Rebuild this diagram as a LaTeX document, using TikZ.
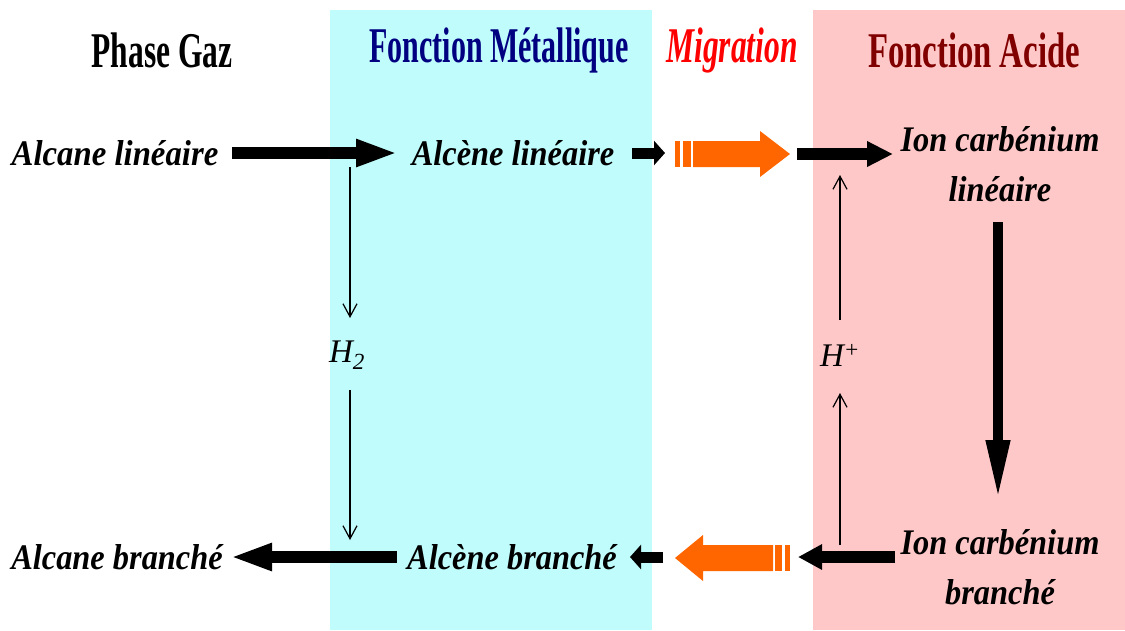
\documentclass[tikz,border=0pt]{standalone}
\usepackage{fontspec}
\setmainfont{Liberation Serif}
\usetikzlibrary{arrows.meta}
\definecolor{cyanbg}{RGB}{192,252,252}
\definecolor{pinkbg}{RGB}{255,200,200}
\definecolor{orng}{RGB}{255,102,0}
\definecolor{navyt}{RGB}{0,0,128}
\definecolor{maroont}{RGB}{128,0,0}
\newcommand\sx[2]{\scalebox{#1}[1]{#2}}
\tikzset{
  title/.style={inner sep=0pt,font=\fontsize{50}{54}\selectfont\bfseries},
  lbl/.style={inner sep=0pt,font=\fontsize{36}{40}\selectfont\bfseries\itshape},
  chem/.style={inner sep=0pt,font=\fontsize{33}{38}\selectfont\itshape},
  bigarrow/.style={line width=12pt,-{Triangle[length=42pt,width=25pt]}},
  smallarrow/.style={line width=11pt,-{Triangle[length=11pt,width=24pt]}},
  vertarrow/.style={line width=10pt,-{Triangle[length=60pt,width=22pt]}},
  thinarrow/.style={line width=1.2pt,-{Straight Barb[length=13pt,width=14pt]}},
}
\begin{document}
\begin{tikzpicture}[x=1pt,y=-1pt]
\useasboundingbox (0,0) rectangle (1125,630);
\fill[cyanbg] (330,10) rectangle (652,630);
\fill[pinkbg] (813,10) rectangle (1125,630);

% titles
\node[title] (tgaz) at (162,50) {\sx{0.63}{Phase Gaz}};
\node[title,text=navyt] (tmet) at (499,50) {\sx{0.6}{Fonction Métallique}};
\node[title,text=red,font=\fontsize{50}{54}\selectfont\bfseries\itshape] (tmig) at (732,50) {\sx{0.63}{Migration}};
\node[title,text=maroont] (tacid) at (974,50) {\sx{0.655}{Fonction Acide}};

% row 1
\node[lbl] (alin) at (115,153) {\sx{0.91}{Alcane linéaire}};
\node[lbl] (elin) at (513,153) {\sx{0.9}{Alcène linéaire}};
\node[lbl,align=center] (clin) at (1000,164) {\sx{0.9}{Ion carbénium}\\[10pt]\sx{0.9}{linéaire}};
% row 2
\node[lbl] (abr) at (117,557) {\sx{0.9}{Alcane branché}};
\node[lbl] (ebr) at (512,557) {\sx{0.9}{Alcène branché}};
\node[lbl,align=center] (cbr) at (1000,567) {\sx{0.9}{Ion carbénium}\\[10pt]\sx{0.9}{branché}};

\node[chem] (h2) at (347,355) {H\textsubscript{2}};
\node[chem] (hp) at (840,355) {H\textsuperscript{+}};

% coordinates of connector ends
\coordinate (a1s) at (232,153);
\coordinate (a1e) at (398,153);
\coordinate (s1s) at (632,153);
\coordinate (s1e) at (665,153);
\coordinate (b1s) at (797,154);
\coordinate (b1e) at (893,154);
\coordinate (a2s) at (397,557);
\coordinate (a2e) at (230,557);
\coordinate (s2s) at (663,557);
\coordinate (s2e) at (630,557);
\coordinate (b2s) at (895,557);
\coordinate (b2e) at (798,557);
\coordinate (vs) at (998,222);
\coordinate (ve) at (998,500);
\coordinate (h2a) at (350,167);
\coordinate (h2b) at (350,318);
\coordinate (h2c) at (350,390);
\coordinate (h2d) at (350,540);
\coordinate (hpa) at (840,545);
\coordinate (hpb) at (840,393);
\coordinate (hpc) at (840,320);
\coordinate (hpd) at (840,175);
\coordinate (o1) at (675,154);
\coordinate (o2) at (790,558);

\draw[bigarrow] (a1s) -- (a1e);
\draw[smallarrow] (s1s) -- (s1e);
\draw[bigarrow,-{Triangle[length=26pt,width=24pt]}] (b1s) -- (b1e);
\draw[bigarrow] (a2s) -- (a2e);
\draw[smallarrow] (s2s) -- (s2e);
\draw[bigarrow,-{Triangle[length=24pt,width=24pt]}] (b2s) -- (b2e);
\draw[vertarrow] (vs) -- (ve);

\draw[thinarrow] (h2a) -- (h2b);
\draw[thinarrow] (h2c) -- (h2d);
\draw[thinarrow] (hpa) -- (hpb);
\draw[thinarrow] (hpc) -- (hpd);

% orange migration arrows
\fill[orng] (o1) ++(0,-13) rectangle ++(5,26);
\fill[orng] (o1) ++(8,-13) rectangle ++(8,26);
\fill[orng] (o1) ++(18,-13) -- ++(67,0) -- ++(0,-10) -- ++(30,23) -- ++(-30,23) -- ++(0,-10) -- ++(-67,0) -- cycle;

\fill[orng] (o2) ++(0,-13) rectangle ++(-5,26);
\fill[orng] (o2) ++(-8,-13) rectangle ++(-7,26);
\fill[orng] (o2) ++(-17,-13) -- ++(-70,0) -- ++(0,-10) -- ++(-28,23) -- ++(28,23) -- ++(0,-10) -- ++(70,0) -- cycle;
\end{tikzpicture}
\end{document}
